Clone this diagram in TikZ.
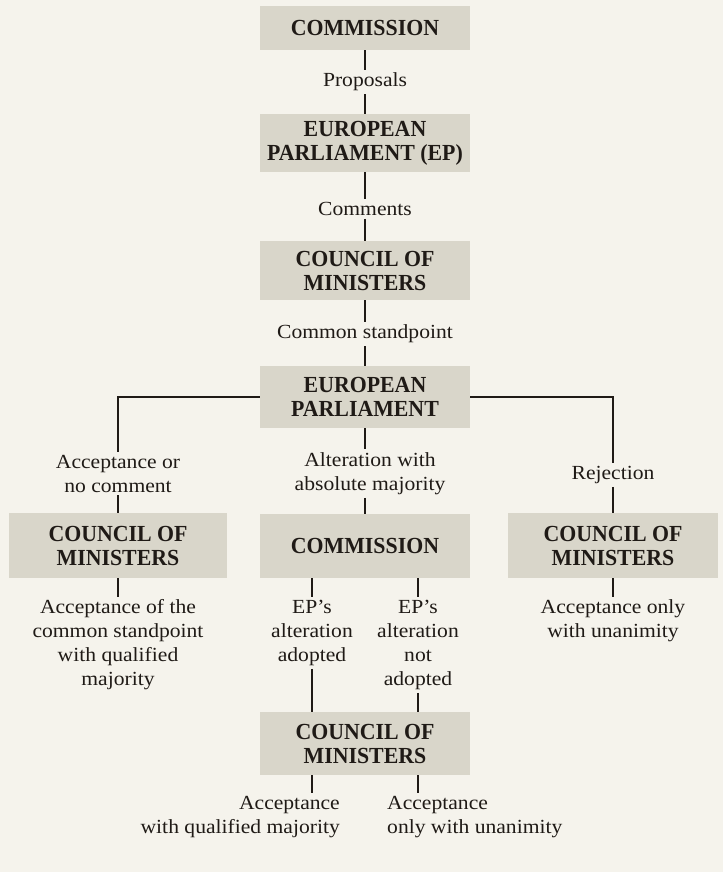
\documentclass[tikz,border=0pt]{standalone}
\usepackage{fontspec}
\setmainfont[FakeStretch=1.08]{Liberation Serif}
\newfontfamily\headfont[FakeStretch=0.95]{Liberation Serif}
\definecolor{bg}{HTML}{F5F3EC}
\definecolor{boxfill}{HTML}{D9D6CA}
\definecolor{ink}{HTML}{1F1A16}
\begin{document}
\begin{tikzpicture}[x=1pt,y=1pt,
 box/.style={fill=boxfill, draw=none, minimum width=210pt, text=ink, inner sep=0pt,
   font=\headfont\fontsize{23}{24}\selectfont\bfseries, align=center},
 lbl/.style={text=ink, font=\fontsize{20}{24}\selectfont, align=center, inner xsep=0pt, inner ysep=3pt},
 conn/.style={draw=ink, line width=1.2pt}]
\fill[bg] (0,0) rectangle (723,-872);
\useasboundingbox (0,0) rectangle (723,-872);
% boxes
\node[box, minimum height=44pt] (cm1) at (365,-28) {COMMISSION};
\node[box, minimum height=58pt] (ep1) at (365,-143) {EUROPEAN\\PARLIAMENT (EP)};
\node[box, minimum height=59pt] (cm2) at (365,-270.5) {COUNCIL OF\\MINISTERS};
\node[box, minimum height=62pt] (ep2) at (365,-397) {EUROPEAN\\PARLIAMENT};
\node[box, minimum height=65pt, minimum width=218pt] (counL) at (118,-545.5) {COUNCIL OF\\MINISTERS};
\node[box, minimum height=64pt] (comm2) at (365,-546) {COMMISSION};
\node[box, minimum height=65pt] (counR) at (613,-545.5) {COUNCIL OF\\MINISTERS};
\node[box, minimum height=63pt] (coun3) at (365,-743.5) {COUNCIL OF\\MINISTERS};
% labels
\node[lbl] (prop) at (365,-82) {Proposals};
\node[lbl] (comm) at (365,-209) {Comments};
\node[lbl] (cs) at (365,-334) {Common standpoint};
\node[lbl] (accL) at (118,-473.5) {Acceptance or\\no comment};
\node[lbl] (alt) at (370,-473.5) {Alteration with\\absolute majority};
\node[lbl] (rej) at (613,-475) {Rejection};
\node[lbl] (accLL) at (118,-645) {Acceptance of the\\common standpoint\\with qualified\\majority};
\node[lbl] (rejB) at (613,-621) {Acceptance only\\with unanimity};
\node[lbl] (epA) at (312,-633) {EP’s\\alteration\\adopted};
\node[lbl] (epN) at (418,-645) {EP’s\\alteration\\not\\adopted};
\node[lbl, align=right, anchor=east] (accB1) at (340,-817.5) {Acceptance\\with qualified majority};
\node[lbl, align=left, anchor=west] (accB2) at (387,-817.5) {Acceptance\\only with unanimity};
\coordinate (b1) at (312,-793);
\coordinate (b2) at (418,-793);
% connectors
\draw[conn] (cm1) -- (prop);
\draw[conn] (prop) -- (ep1);
\draw[conn] (ep1) -- (comm);
\draw[conn] (comm) -- (cm2);
\draw[conn] (cm2) -- (cs);
\draw[conn] (cs) -- (ep2);
\draw[conn] (ep2.south) -- (ep2.south |- alt.north);
\draw[conn] (comm2.north |- alt.south) -- (comm2.north);
\draw[conn] (ep2.west) -| (accL.north);
\draw[conn] (accL.south) -- (accL.south |- counL.north);
\draw[conn] (ep2.east) -| (rej.north);
\draw[conn] (rej.south) -- (rej.south |- counR.north);
\draw[conn] (counL.south) -- (counL.south |- accLL.north);
\draw[conn] (counR.south) -- (counR.south |- rejB.north);
\draw[conn] (comm2.south -| epA) -- (epA.north);
\draw[conn] (comm2.south -| epN) -- (epN.north);
\draw[conn] (epA.south) -- (coun3.north -| epA);
\draw[conn] (epN.south) -- (coun3.north -| epN);
\draw[conn] (coun3.south -| b1) -- (b1);
\draw[conn] (coun3.south -| b2) -- (b2);
\end{tikzpicture}
\end{document}
